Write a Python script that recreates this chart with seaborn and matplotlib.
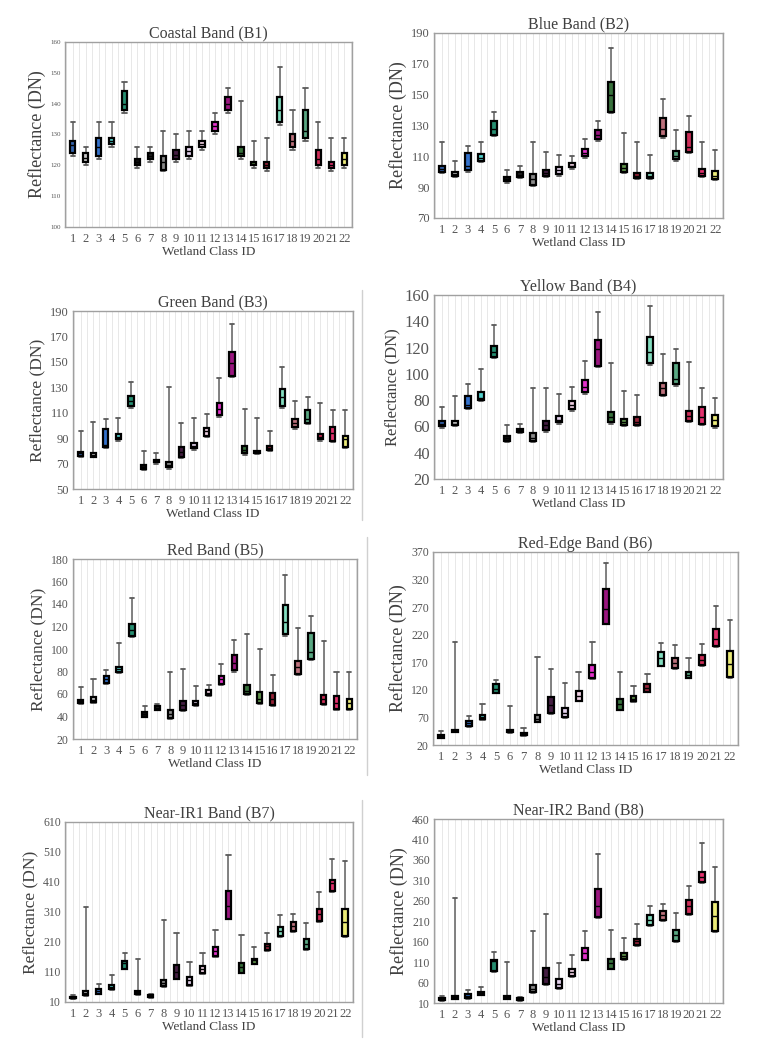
import numpy as np
import pandas as pd
import matplotlib
matplotlib.use("Agg")
import matplotlib.pyplot as plt
import seaborn as sns
from matplotlib.lines import Line2D

sns.set_theme(style="white")
plt.rcParams['font.family'] = ['Liberation Serif', 'DejaVu Serif']

class_ids = [str(i) for i in range(1, 23)]

class_colors = ["#1f5fc0", "#c8c8c8", "#1a6ee6", "#3ee6e0", "#16a07a", "#101010",
                "#202020", "#8a8a8a", "#4a1848", "#e6cdf2", "#f6cde6", "#ff14e0",
                "#b0008c", "#2f7a34", "#5aa040", "#a8102c", "#74ecc4", "#c86474",
                "#4cb482", "#e8124c", "#ff1464", "#ffff66"]

# per class: [min, q1, median, q3, max]
b1_coastal = [[123,124,126.5,128,134],[120,121,122.4,124,126],[122,123,126,129,134],[126,127,128,129,134],
              [137,138,140,144,147],[119,120,121,122,126],[121,122,123,124,126],[118,118.6,121,123,131],
              [121,122,123.5,125,130],[122,123,124.5,126,131],[125,126,127,128,131],[130,131,132.6,134,137],
              [137,138,140,142,145],[122,123,124,126,141],[119,120,120.5,121,128],[118,119,120,121,129],
              [133,134,138,142,152],[125,126,128,130,138],[128,129,131,138,145],[119,120,122,125,134],
              [118,119,120,121,129],[119,120,122,124,129]]
b2_blue = [[99,100,102,103.5,119],[96.4,97,98.8,100,107],[100,101,104,112,116.5],[106,107,109,111.5,119],
           [123,124,128,133,139],[93,94,95,96.6,101],[96,96.6,98,99.6,103.5],[91,91.6,95,98.8,119],
           [96.5,97.5,99.5,101,113],[97.5,98.5,101,103,111],[102,103,104,105.5,110],[109,110,112,114.5,121],
           [120,121,124,127,133],[138,139,150,158,180],[99,100,102.5,105,125],[95.5,96,97.5,99,119],
           [95.5,96,97.5,99.5,111],[122,123,128,135,147],[107,108,110.5,113.5,127],[112,113,116,126,136],
           [96.5,97.5,99.5,102,119],[94.5,95.5,97.5,100.5,114]]
b3_green = [[75,76,78,79,96],[75,75.5,76.5,78,103],[82,83,85,97,105],[88,89,91,93,106],
            [114,115,119,123,134],[65,65.5,67,69,80],[70,71,72,73,78],[66,67,69,71,130],
            [74,75,79,83,102],[81,82,84,86,106],[91,92,96,98,109],[107,108,113,118,137],
            [138,139,149,158,180],[77,78,81,84,113],[77.5,78.5,79.5,80,106],[80,80.5,82,84,96],
            [114,115,122,129,146],[97.5,98.5,102,105,119],[101,102,105,112,122],[88,89,91,93,118],
            [87,88,94,99,112],[82,83,89,92,112]]
b4_yellow = [[59,60,62,64,75],[60,61,62,64,83],[73,74,76,83,92],[79,80,82,86,104],
             [112,113,117,121,137],[48,49,51,53,61],[55,56,57,58,62],[48,49,51,55,89],
             [56,57,61,64,89],[62,63,65,68,85],[72,73,76,79,90],[85,86,90,95,110],
             [105,106,119,126,147],[62,63,67,71,108],[60,61,63,66,87],[60,61,63,67,84],
             [107,108,117,128,152],[83,84,89,93,115],[91,92,96,108,119],[63,64,68,72,109],
             [61,62,67,75,89],[59,60,65,69,82]]
b5_red = [[51.5,52,54,55,66],[52,53,55,57,73],[69,70,73,76,81],[79,80,82,84,105],
          [111,112,117,122,145],[39.5,40,42,44,49],[45.5,46,48,49,51],[38,39,42,46,80],
          [45,46,50,54,82],[49,50,52,54,67],[58,59,61,64,68],[68,69,73,76,87],
          [80,81,88,95,108],[59,60,63,68,113],[51,52,56,62,100],[49,50,56,61,77],
          [112,113,124,139,166],[77,78,84,89,119],[90,91,97,114,129],[50,51,56,59,107],
          [46,47,52,58,80],[46,47,52,56,80]]
b6_rededge = [[32,33,36,38,45],[43,44,46,48,206],[52,54,60,64,73],[66,67,71,75,94],
              [114,115,122,130,138],[42,43,46,48,90],[37,38,40,41,50],[61,62,68,75,179],
              [77,78,92,107,157],[69,70,78,88,132],[99,100,108,118,153],[140,141,153,165,207],
              [239,240,267,302,350],[83,84,95,103,153],[98,99,103,109,127],[116,117,124,130,148],
              [163,164,177,188,205],[158,159,168,178,201],[141,142,147,152,178],[164,165,175,183,204],
              [198,199,213,230,272],[142,143,167,190,246]]
b7_nir1 = [[20,22,25,28,32],[30,32,40,47,327],[36,38,47,52,69],[50,52,60,66,99],
           [119,121,140,147,173],[34,36,42,47,154],[25,27,30,33,36],[60,62,73,82,284],
           [86,88,110,134,241],[64,66,82,93,143],[105,107,120,130,173],[160,162,180,193,249],
           [286,288,329,379,501],[106,108,127,140,232],[136,138,149,154,193],[180,182,196,202,241],
           [227,229,247,260,299],[244,246,263,277,304],[184,186,204,219,274],[278,280,304,319,377],
           [377,379,407,418,486],[228,230,277,321,481]]
b8_nir2 = [[16,17,20,22,28],[20,21,25,28,266],[21,22,28,32,41],[29,30,34.5,37,49],
           [87,89,112,116,134],[20,21,25,28,110],[16,17,20,22,25],[35,37,45,53,187],
           [54,56,73,96,227],[45,47,57,69,108],[73,75,85,93,128],[114,116,132,144,185],
           [218,220,248,288,375],[92,94,108,118,189],[115,117,124,132,169],[150,152,161,167,203],
           [198,200,213,226,248],[210,212,226,234,253],[160,162,177,189,231],[225,227,248,261,296],
           [303,305,318,331,401],[183,185,223,256,342]]

band_titles = ["Coastal Band (B1)", "Blue Band (B2)", "Green Band (B3)", "Yellow Band (B4)",
               "Red Band (B5)", "Red-Edge Band (B6)", "Near-IR1 Band (B7)", "Near-IR2 Band (B8)"]
band_data = [b1_coastal, b2_blue, b3_green, b4_yellow, b5_red, b6_rededge, b7_nir1, b8_nir2]
y_ranges = [(100, 160, 10), (70, 190, 20), (50, 190, 20), (20, 160, 20),
            (20, 180, 20), (20, 370, 50), (10, 610, 100), (10, 460, 50)]

W, H = 777, 1050
# pixel boxes: left, right, top, bottom
rects = [(65, 352, 42, 227), (434, 723, 33, 218), (73, 353, 311, 489), (434, 723, 295, 479),
         (73, 357, 559, 739), (433, 738, 552, 745), (65, 353, 822, 1002), (434, 723, 819, 1003)]
ytick_fs = [5, 9, 9, 12, 8.5, 8.5, 8.5, 8.5]
ylab_fs = [13, 13, 12.5, 12, 12.5, 13, 12.5, 13]

BOX_W = 0.42
fig = plt.figure(figsize=(W / 100, H / 100), dpi=100)

for k in range(8):
    l, r, t, b = rects[k]
    ax = fig.add_axes([l / W, 1 - b / H, (r - l) / W, (b - t) / H])
    rows = []
    for cid, vals in zip(class_ids, band_data[k]):
        for v in vals:
            rows.append((cid, v))
    df = pd.DataFrame(rows, columns=["cls", "val"])
    for xg in np.arange(-0.5, 22, 0.5):
        ax.axvline(xg, color="#e4e4e4", lw=0.6, zorder=0)
    n_before = len(ax.lines)
    sns.boxplot(data=df, x="cls", y="val", hue="cls", order=class_ids, hue_order=class_ids,
                palette=class_colors, legend=False, whis=(0, 100), width=BOX_W, dodge=False,
                linewidth=1.4, linecolor="black", ax=ax, showfliers=False)
    # recolour whiskers/caps grey, keep medians black
    for ln in ax.lines[n_before:]:
        xd = np.asarray(ln.get_xdata(), dtype=float)
        yd = np.asarray(ln.get_ydata(), dtype=float)
        if len(xd) < 2:
            continue
        span = abs(xd.max() - xd.min())
        if span > BOX_W * 0.9:
            ln.set_color("black")
            ln.set_linewidth(1.0)
            ln.set_zorder(4)
        elif span < 1e-9:
            ln.set_color("#777777")
            ln.set_linewidth(1.3)
        else:
            ln.set_color("#5a5a5a")
            ln.set_linewidth(1.3)
            c = (xd.max() + xd.min()) / 2
            ln.set_xdata([c - BOX_W * 0.38, c + BOX_W * 0.38])
    for p in ax.patches:
        p.set_edgecolor("black")
        p.set_linewidth(1.6)
        p.set_zorder(3)
    lo, hi, st = y_ranges[k]
    ax.set_ylim(lo, hi)
    ax.set_yticks(np.arange(lo, hi + 0.1, st))
    ax.set_xlim(-0.6, 21.6)
    ax.set_title(band_titles[k], fontsize=11.5, color="#404040", pad=3)
    ax.set_xlabel("Wetland Class ID", fontsize=9.5, color="#404040", labelpad=1)
    ax.set_ylabel("Reflectance (DN)", fontsize=ylab_fs[k], color="#404040", labelpad=3)
    ax.tick_params(axis="y", labelsize=ytick_fs[k], colors="#555555", length=0, pad=3)
    ax.tick_params(axis="x", labelsize=9, colors="#555555", length=0, pad=4)
    for s in ax.spines.values():
        s.set_color("#a0a0a0")
        s.set_linewidth(1.0)
    ax.grid(False)

# column separator lines
for (x, y0, y1) in [(362, 290, 520), (367, 537, 775), (362, 800, 1037)]:
    fig.add_artist(Line2D([x / W, x / W], [1 - y0 / H, 1 - y1 / H], color="#d0d0d0", lw=1.0))

fig.savefig("out.png", dpi=100, facecolor="white")
